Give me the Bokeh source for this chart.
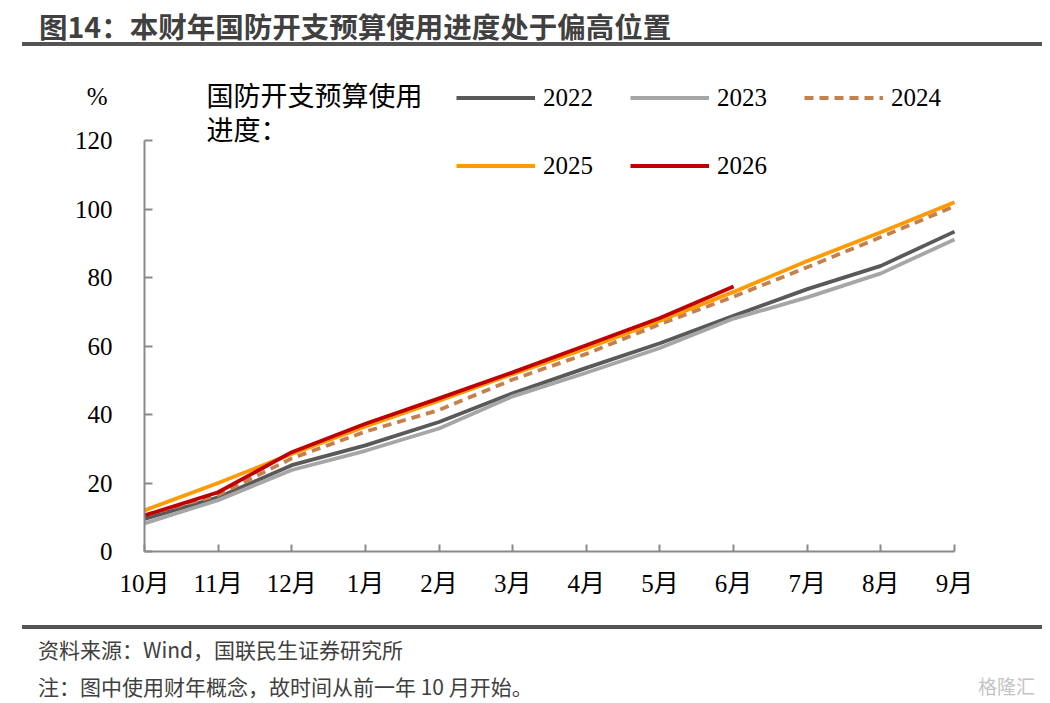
from bokeh.plotting import figure
from bokeh.models import Range1d, FixedTicker, Label, Legend, LegendItem, Div, Column, LinearAxis
from bokeh.embed import file_html
from bokeh.resources import INLINE

# 财年月份（从前一年10月开始）
months = ["10月", "11月", "12月", "1月", "2月", "3月", "4月", "5月", "6月", "7月", "8月", "9月"]
y_ticks = [0, 20, 40, 60, 80, 100, 120]

# 国防开支预算使用进度（%），读自原图
fy2022 = [9.5, 15.8, 25.2, 31.0, 37.8, 46.2, 53.6, 60.8, 68.8, 76.6, 83.4, 93.4]
fy2023 = [8.2, 15.0, 23.8, 29.4, 35.9, 45.3, 52.2, 59.4, 68.0, 74.2, 81.2, 91.1]
fy2024 = [10.6, 16.5, 27.2, 35.0, 41.3, 50.2, 57.7, 66.4, 74.4, 83.0, 91.8, 100.8]
fy2025 = [12.0, 20.0, 28.5, 36.5, 44.0, 51.8, 59.3, 67.4, 75.8, 84.8, 93.2, 102.0]
fy2026 = [10.5, 17.3, 29.0, 37.3, 44.7, 52.3, 60.2, 68.2, 77.4]

title_text = "图14：本财年国防开支预算使用进度处于偏高位置"
source_text = "资料来源：Wind，国联民生证券研究所"
note_text = "注：图中使用财年概念，故时间从前一年 10 月开始。"

W = 1050
TOP_H, FIG_H, FOOT_H = 46, 575, 82

# page pixel positions of the axes (x=0 at 144, x=11 at 954; y=0 at 551, y=120 at 140)
X0, XPX = 144, (954 - 144) / 11
Y0, YPX = 551, (551 - 140) / 120
FRAME_R, FRAME_T = 962, 60

def dx(px):
    return (px - X0) / XPX

def dy(py):
    return (Y0 - py) / YPX

p = figure(width=W, height=FIG_H,
           x_range=Range1d(0, dx(FRAME_R)), y_range=Range1d(0, dy(FRAME_T)),
           output_backend="svg", toolbar_location=None, title=None,
           min_border_left=X0, min_border_right=W - FRAME_R,
           min_border_top=FRAME_T - TOP_H, min_border_bottom=TOP_H + FIG_H - Y0)
p.outline_line_color = None
p.xgrid.visible = False
p.ygrid.visible = False
p.margin = 0

serif = "Liberation Serif, Noto Sans CJK SC"
cjk = "Noto Sans CJK SC"
axis_col = "#898989"

# 坐标轴
p.yaxis.ticker = FixedTicker(ticks=y_ticks)
p.yaxis.bounds = (0, 120)
p.xaxis.ticker = FixedTicker(ticks=list(range(len(months))))
p.xaxis.major_label_overrides = {i: m for i, m in enumerate(months)}
p.xaxis.bounds = (0, len(months) - 1)
for ax in (p.xaxis, p.yaxis):
    ax.axis_line_color = axis_col
    ax.axis_line_width = 2
    ax.major_tick_line_color = axis_col
    ax.major_tick_line_width = 2
    ax.major_tick_out = 0
    ax.minor_tick_line_color = None
    ax.major_label_text_font = serif
    ax.major_label_text_font_size = "25px"
    ax.major_label_text_color = "black"
p.yaxis.major_tick_in = 8
p.yaxis.major_label_standoff = 32
p.xaxis.major_tick_in = 7
p.xaxis.major_label_standoff = 18

# 单位“%”：外侧一条只有一个刻度标签的辅助轴
pct_y = dy(96)
unit_axis = LinearAxis(ticker=FixedTicker(ticks=[pct_y]), major_label_overrides={pct_y: "%"},
                       axis_line_color=None, major_tick_line_color=None,
                       minor_tick_line_color=None, major_tick_in=0, major_tick_out=0,
                       major_label_standoff=-36, major_label_text_font=serif,
                       major_label_text_font_size="25px", major_label_text_color="black")
p.add_layout(unit_axis, "left")

x_full = list(range(len(months)))
lw = 3.8
r22 = p.line(x_full, fy2022, line_color="#595959", line_width=lw)
r23 = p.line(x_full, fy2023, line_color="#A6A6A6", line_width=lw)
r24 = p.line(x_full, fy2024, line_color="#C4804D", line_width=lw, line_dash="9 6")
r25 = p.line(x_full, fy2025, line_color="#FF9A00", line_width=lw)
r26 = p.line(x_full[:len(fy2026)], fy2026, line_color="#C00000", line_width=lw)

legend = Legend(items=[LegendItem(label="2022", renderers=[r22]),
                       LegendItem(label="2023", renderers=[r23]),
                       LegendItem(label="2024", renderers=[r24]),
                       LegendItem(label="2025", renderers=[r25]),
                       LegendItem(label="2026", renderers=[r26])],
                location=(456 - X0, Y0 - 181), orientation="horizontal", ncols=3,
                glyph_width=79, glyph_height=31, label_height=31, label_standoff=8,
                spacing=37, padding=0, margin=0, border_line_color=None,
                background_fill_alpha=0, label_text_font=serif,
                label_text_font_size="25px", label_text_color="black")
p.add_layout(legend)

def lab(text, px, py, size, font, align="left"):
    p.add_layout(Label(x=dx(px), y=dy(py), text=text, text_font=font,
                       text_font_size=f"{size}px", text_color="black",
                       text_align=align, text_baseline="middle"))

lab("国防开支预算使用", 206, 94, 27, cjk)
lab("进度：", 206, 128, 27, cjk)

rule = "position:absolute;left:22px;width:1020px;height:4px;background:#555555;"
txt = "position:absolute;white-space:nowrap;font-family:'Noto Sans CJK SC';color:#404040;"

top = Div(width=W, height=TOP_H, margin=0, text=(
    f'<div style="position:relative;width:{W}px;height:{TOP_H}px;">'
    f'<div style="{txt}left:39px;top:8px;line-height:36px;font-size:28.5px;font-weight:bold;">{title_text}</div>'
    f'<div style="{rule}top:42px;"></div></div>'))

foot = Div(width=W, height=FOOT_H, margin=0, text=(
    f'<div style="position:relative;width:{W}px;height:{FOOT_H}px;">'
    f'<div style="{rule}top:4px;"></div>'
    f'<div style="{txt}left:38px;top:13px;line-height:30px;font-size:21px;">{source_text}</div>'
    f'<div style="{txt}left:38px;top:50px;line-height:30px;font-size:21px;">{note_text}</div>'
    f'<div style="{txt}left:978px;top:52px;line-height:26px;font-size:19px;color:#c4c4c4;">格隆汇</div></div>'))

layout = Column(top, p, foot, spacing=0, margin=0)

open("out.html", "w").write(file_html(layout, INLINE))
